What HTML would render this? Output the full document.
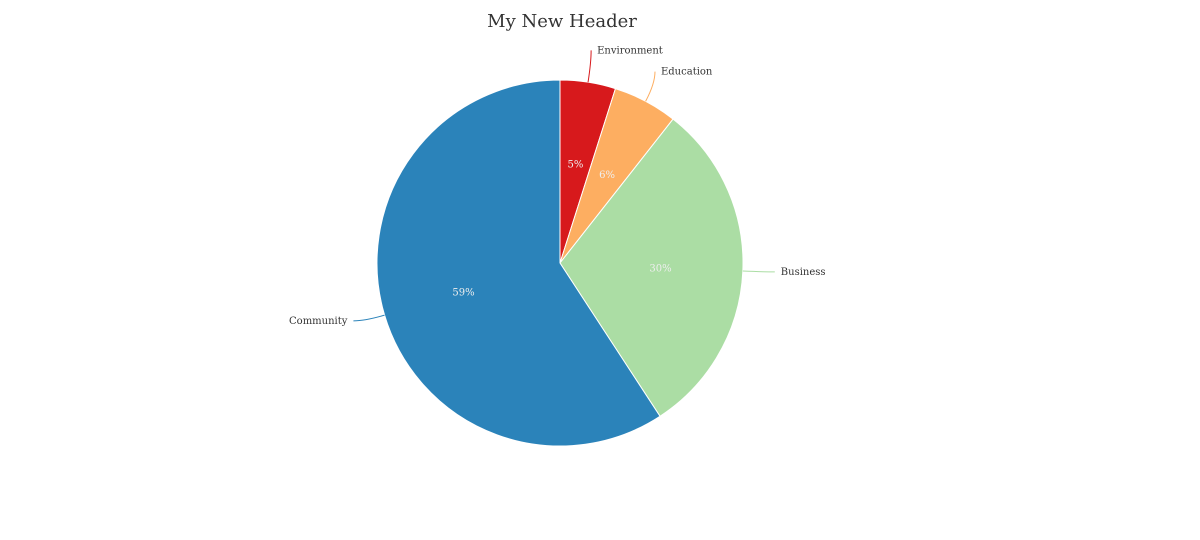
<!DOCTYPE html>
<html><head><meta charset="utf-8"><style>
body{margin:0;background:#fff;width:1200px;height:540px;overflow:hidden}
svg{display:block;font-family:"DejaVu Serif","Liberation Serif",serif}
</style></head><body>
<svg width="1200" height="540">
<text x="562" y="27" text-anchor="middle" font-size="18" fill="#333">My New Header</text>
<g id="pie"></g>
</svg>
<script>
const categories=["Environment","Education","Business","Community"];
const values=[4.9,5.7,30.2,59.2];
const pctLabels=["5%","6%","30%","59%"];
const colors=["#d7191c","#fdae61","#abdda4","#2b83ba"];
const cx=560,cy=263,R=183;
const g=document.getElementById('pie');
const NS="http://www.w3.org/2000/svg";
const total=values.reduce((a,b)=>a+b,0);
function pt(a,r){return [cx+r*Math.sin(a),cy-r*Math.cos(a)];}
let acc=0;
values.forEach((v,i)=>{
  const a0=acc/total*2*Math.PI; acc+=v; const a1=acc/total*2*Math.PI;
  const p0=pt(a0,R),p1=pt(a1,R);
  const path=document.createElementNS(NS,'path');
  path.setAttribute('d',`M${cx},${cy}L${p0[0]},${p0[1]}A${R},${R} 0 ${a1-a0>Math.PI?1:0} 1 ${p1[0]},${p1[1]}Z`);
  path.setAttribute('fill',colors[i]);path.setAttribute('stroke','#fff');path.setAttribute('stroke-width','1');
  
  
  g.appendChild(path);
  const am=(a0+a1)/2;
  const lp=pt(am,R*0.55);
  const t=document.createElementNS(NS,'text');
  t.setAttribute('x',lp[0]);t.setAttribute('y',lp[1]+4);t.setAttribute('text-anchor','middle');
  t.setAttribute('font-size','10');t.setAttribute('fill','#eee');t.textContent=pctLabels[i];
  
  
  g.appendChild(t);
  const e=pt(am,R), m=pt(am,R+20);
  const right=Math.sin(am)>=0;
  const top=Math.cos(am)>0.5;
  const ex=m[0]+(top?0:(right?12:-12));
  const ey=m[1]-(top?12:0);
  const ln=document.createElementNS(NS,'path');
  ln.setAttribute('d',`M${e[0]},${e[1]}Q${m[0]},${m[1]} ${ex},${ey}`);
  ln.setAttribute('fill','none');ln.setAttribute('stroke',colors[i]);ln.setAttribute('stroke-width','1');
  
  
  g.appendChild(ln);
  const lt=document.createElementNS(NS,'text');
  lt.setAttribute('x',ex+(right?6:-6));lt.setAttribute('y',ey+3);
  lt.setAttribute('text-anchor',right?'start':'end');lt.setAttribute('font-size','10');lt.setAttribute('fill','#333');
  lt.textContent=categories[i];
  
  
  g.appendChild(lt);
});
</script>
</body></html>
